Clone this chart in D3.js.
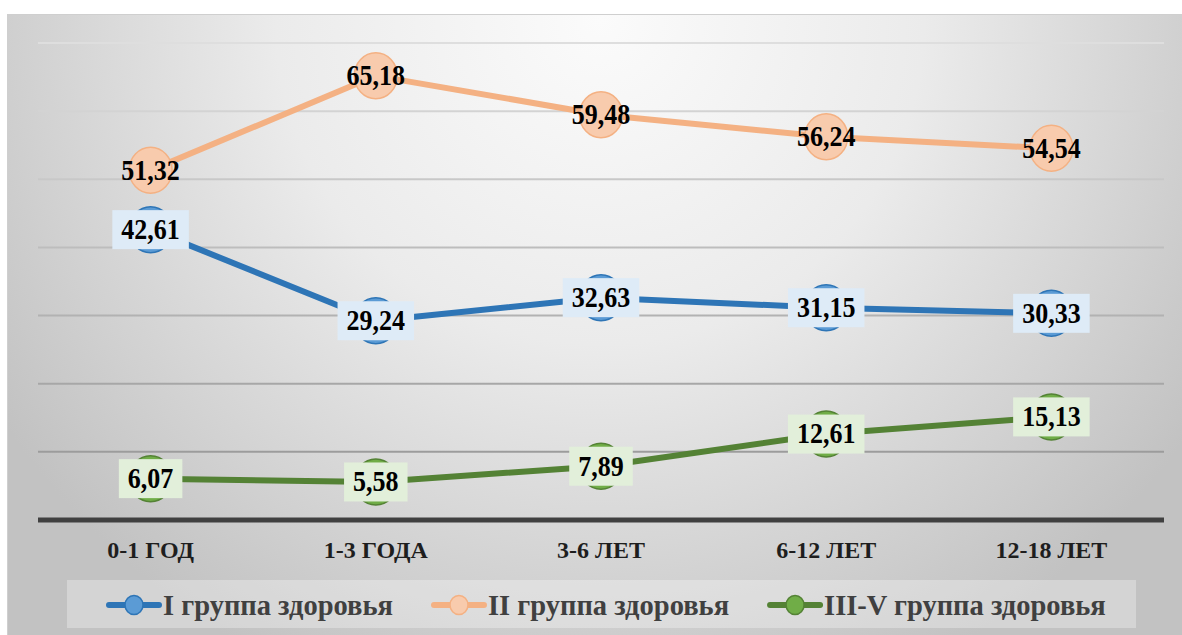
<!DOCTYPE html>
<html>
<head>
<meta charset="utf-8">
<script src="https://cdn.jsdelivr.net/npm/d3@7"></script>
<style>
  html, body { margin: 0; padding: 0; background: #fff; }
  svg { display: block; }
  .vlabel { font-family: "Liberation Serif", "Times New Roman", serif; font-weight: bold; font-size: 26px; fill: #000; }
  .xlabel { font-family: "Liberation Serif", "Times New Roman", serif; font-weight: bold; font-size: 24px; fill: #1e1e1e; }
  .legtext { font-family: "Liberation Serif", "Times New Roman", serif; font-weight: bold; font-size: 28.5px; fill: #404040; }
</style>
</head>
<body>
<div id="chart"></div>
<script>
'use strict';

// data
const categories = ["0-1 ГОД", "1-3 ГОДА", "3-6 ЛЕТ", "6-12 ЛЕТ", "12-18 ЛЕТ"];
const seriesNames = ["I группа здоровья", "II группа здоровья", "III-V группа здоровья"];
const group1 = [42.61, 29.24, 32.63, 31.15, 30.33];
const group2 = [51.32, 65.18, 59.48, 56.24, 54.54];
const group3 = [6.07, 5.58, 7.89, 12.61, 15.13];
const yTicks = [0, 10, 20, 30, 40, 50, 60, 70];

const width = 1182,
      height = 635,
      plotLeft = 38,
      plotRight = 1164,
      plotTop = 43,
      plotBottom = 520;

const styles = [
  { line: "#2e75b6", fill: "#5b9bd5", box: "#deebf7" },
  { line: "#f4b183", fill: "#f8cbad", box: null },
  { line: "#548235", fill: "#70ad47", box: "#e2efda" }
];
const allSeries = [group1, group2, group3];

const fmt = v => v.toFixed(2).replace(".", ",");

const svg = d3.select("#chart").append("svg")
  .attr("width", width)
  .attr("height", height);

const defs = svg.append("defs");
const grad = defs.append("radialGradient")
  .attr("id", "bg")
  .attr("gradientUnits", "userSpaceOnUse")
  .attr("cx", 600).attr("cy", 20).attr("r", 720);
grad.append("stop").attr("offset", 0).attr("stop-color", "#fbfbfb");
grad.append("stop").attr("offset", 0.45).attr("stop-color", "#ebebeb");
grad.append("stop").attr("offset", 1).attr("stop-color", "#c2c2c2");

svg.append("rect")
  .attr("x", 7.5).attr("y", 14.5)
  .attr("width", width).attr("height", height)
  .attr("fill", "url(#bg)")
  .attr("stroke", "#cfcfcf");

const x = d3.scaleBand(categories, [plotLeft, plotRight]);
const cx = c => x(c) + x.bandwidth() / 2;
const y = d3.scaleLinear([0, 70], [plotBottom, plotTop]);

// gridlines, lighter toward the top like the reference
const gridColor = d3.scaleLinear([10, 70], ["#9c9c9c", "#dedede"]);
svg.append("g")
  .selectAll("line")
  .data(yTicks.filter(t => t > 0))
  .join("line")
  .attr("x1", plotLeft).attr("x2", plotRight)
  .attr("y1", d => y(d)).attr("y2", d => y(d))
  .attr("stroke", d => gridColor(d))
  .attr("stroke-width", 2);

// x axis
const gx = svg.append("g")
  .attr("transform", `translate(0, ${y(0)})`)
  .call(d3.axisBottom(x).tickSize(0).tickPadding(21));
gx.select(".domain").attr("stroke", "#404040").attr("stroke-width", 5)
  .attr("d", `M${plotLeft},0H${plotRight}`);
gx.selectAll("text")
  .attr("class", "xlabel")
  .attr("font-size", null).attr("font-family", null).attr("fill", null);

const line = d3.line()
  .x((d, i) => cx(categories[i]))
  .y(d => y(d));

const gLines = svg.append("g");
const gMarks = svg.append("g");
const gLabels = svg.append("g");

allSeries.forEach((vals, s) => {
  const st = styles[s];
  gLines.append("path")
    .attr("d", line(vals))
    .attr("fill", "none")
    .attr("stroke", st.line)
    .attr("stroke-width", 6)
    .attr("stroke-linejoin", "round");
  gMarks.selectAll(null)
    .data(vals)
    .join("ellipse")
    .attr("cx", (d, i) => cx(categories[i]))
    .attr("cy", d => y(d))
    .attr("rx", 21.5)
    .attr("ry", 23)
    .attr("fill", st.fill)
    .attr("stroke", st.line)
    .attr("stroke-width", 1.5);
});

allSeries.forEach((vals, s) => {
  const st = styles[s];
  vals.forEach((v, i) => {
    const g = gLabels.append("g")
      .attr("transform", `translate(${cx(categories[i])}, ${y(v)})`);
    const t = g.append("text")
      .attr("class", "vlabel")
      .attr("text-anchor", "middle")
      .attr("transform", "scale(1,1.1)")
      .attr("y", 8.5)
      .text(fmt(v));
    if (st.box) {
      const w = t.node().getComputedTextLength() + 18;
      g.insert("rect", "text")
        .attr("x", -w / 2).attr("y", -19.5)
        .attr("width", w).attr("height", 39)
        .attr("fill", st.box);
    }
  });
});

// legend
const legend = svg.append("g");
legend.append("rect")
  .attr("x", 67).attr("y", 580)
  .attr("width", 1136 - 67).attr("height", 48)
  .attr("fill", "#ffffff").attr("fill-opacity", 0.3);

let lx = 106;
const ly = 605;
seriesNames.forEach((name, s) => {
  const st = styles[s];
  const g = legend.append("g").attr("transform", `translate(${lx}, ${ly})`);
  g.append("line")
    .attr("x1", 3).attr("x2", 53)
    .attr("stroke", st.line).attr("stroke-width", 6)
    .attr("stroke-linecap", "round");
  g.append("ellipse")
    .attr("cx", 28).attr("rx", 9).attr("ry", 9.5)
    .attr("fill", st.fill).attr("stroke", st.line).attr("stroke-width", 1.5);
  const t = g.append("text")
    .attr("class", "legtext")
    .attr("x", 57).attr("y", 10)
    .text(name);
  lx += 57 + t.node().getComputedTextLength() + 38;
});
</script>
</body>
</html>
